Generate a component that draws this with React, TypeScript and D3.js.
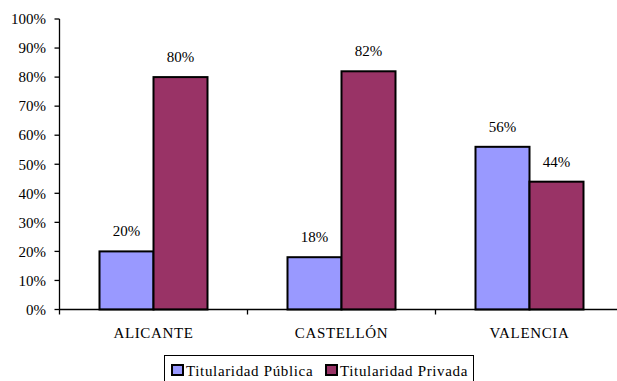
import React from "react";
import * as d3 from "d3";

const categories = ["ALICANTE", "CASTELLÓN", "VALENCIA"];
const seriesNames = ["Titularidad Pública", "Titularidad Privada"];
const publica = [20, 18, 56];
const privada = [80, 82, 44];
const yTicks = [0, 10, 20, 30, 40, 50, 60, 70, 80, 90, 100];
const colors = ["#9999FF", "#993366"];

const W = 617;
const H = 381;
const FONT = "Liberation Serif, DejaVu Serif, Times New Roman, serif";

export default function App() {
  const x0 = 59.5;
  const step = 188;
  const x = d3
    .scaleBand<string>()
    .domain(categories)
    .range([x0, x0 + step * categories.length])
    .paddingInner(0)
    .paddingOuter(0);
  const inner = d3
    .scaleBand<string>()
    .domain(seriesNames)
    .range([40, step - 40]);
  const y = d3.scaleLinear().domain([0, 100]).range([309.5, 19]);
  const series = [publica, privada];
  const fs = 15;
  const ts: React.CSSProperties = { fontFamily: FONT, fontSize: fs };
  const wide: React.CSSProperties = { ...ts, letterSpacing: "0.65px" };

  return (
    <svg
      width={W}
      height={H}
      style={{ position: "absolute", left: 0, top: 0, background: "#fff", fontFamily: FONT }}
    >
      <rect x={0} y={0} width={W} height={H} fill="#fff" />
      <line x1={x0} x2={x0} y1={y(100)} y2={y(0)} stroke="#000" strokeWidth={1.3} />
      {yTicks.map((t) => (
        <g key={t}>
          <line x1={x0 - 5} x2={x0} y1={y(t)} y2={y(t)} stroke="#000" strokeWidth={1.3} />
          <text x={46} y={y(t)} dy="0.35em" textAnchor="end" style={ts} fill="#000">
            {t}%
          </text>
        </g>
      ))}
      {categories.map((c, i) =>
        series.map((s, j) => {
          const bx = (x(c) as number) + (inner(seriesNames[j]) as number);
          const bw = inner.bandwidth();
          const v = s[i];
          return (
            <g key={c + j}>
              <rect
                x={bx}
                y={y(v)}
                width={bw}
                height={y(0) - y(v)}
                fill={colors[j]}
                stroke="#000"
                strokeWidth={2}
              />
              <text x={bx + bw / 2} y={y(v) - 15} textAnchor="middle" style={ts} fill="#000">
                {v}%
              </text>
            </g>
          );
        })
      )}
      <line x1={x0} x2={W} y1={y(0)} y2={y(0)} stroke="#000" strokeWidth={1.3} />
      {categories.map((c) => (
        <g key={c}>
          <line
            x1={(x(c) as number) + step}
            x2={(x(c) as number) + step}
            y1={y(0)}
            y2={y(0) + 5}
            stroke="#000"
            strokeWidth={1.3}
          />
          <text x={(x(c) as number) + step / 2} y={338} textAnchor="middle" style={wide} fill="#000">
            {c}
          </text>
        </g>
      ))}
      <line x1={x0} x2={x0} y1={y(0)} y2={y(0) + 5} stroke="#000" strokeWidth={1.3} />
      <rect x={164.5} y={355.5} width={309} height={30} fill="#fff" stroke="#000" strokeWidth={1} />
      {seriesNames.map((n, j) => {
        const lx = j === 0 ? 172 : 326;
        return (
          <g key={n}>
            <rect x={lx} y={365} width={11} height={10} fill={colors[j]} stroke="#000" strokeWidth={2} />
            <text x={lx + 14} y={376} style={wide} fill="#000">
              {n}
            </text>
          </g>
        );
      })}
    </svg>
  );
}
